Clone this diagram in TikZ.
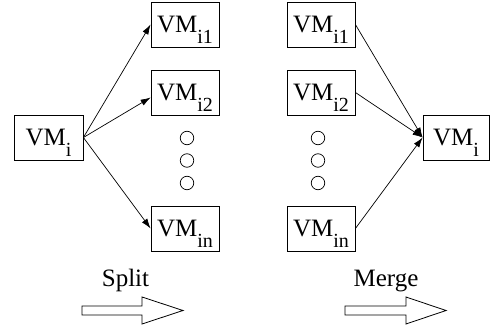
\documentclass[tikz,border=0pt]{standalone}
\usepackage{fontspec}
\setmainfont{Liberation Serif}
\usetikzlibrary{arrows.meta}
\newcommand\vmlab[1]{VM\smash{\raisebox{-11pt}{\fontsize{20}{20}\selectfont #1}}}
\begin{document}
\begin{tikzpicture}[x=1pt,y=-1pt,
  vmbox/.style={draw,line width=0.8pt,inner sep=0pt,minimum width=68pt,minimum height=45pt,font=\fontsize{25}{30}\selectfont},
  dotc/.style={draw,circle,line width=0.7pt,inner sep=0pt,minimum size=13.5pt},
  conn/.style={line width=0.7pt,-{Latex[length=10pt,width=6.5pt]}},
  bigarrow/.style={draw,line width=0.8pt,fill=white},
  lbl/.style={anchor=base,font=\fontsize{25}{30}\selectfont}]
\useasboundingbox (0,0) rectangle (490,331);
% split side
\node[vmbox,minimum width=69pt] (vi) at (48.5,137.5) {\vmlab{i}};
\node[vmbox] (i1) at (185,24.5) {\vmlab{i1}};
\node[vmbox] (i2) at (185,92.5) {\vmlab{i2}};
\node[vmbox] (in) at (185,228.5) {\vmlab{in}};
\node[dotc] (c1) at (187,138) {};
\node[dotc] (c2) at (187,160.5) {};
\node[dotc] (c3) at (187,183) {};
\draw[conn] (vi.east) -- (i1.west);
\draw[conn] (vi.east) -- ([yshift=-5pt]i2.west);
\draw[conn] (vi.east) -- (in.west);
% merge side
\node[vmbox] (j1) at (321,24.5) {\vmlab{i1}};
\node[vmbox] (j2) at (321,92.5) {\vmlab{i2}};
\node[vmbox] (jn) at (321,228.5) {\vmlab{in}};
\node[dotc] (d1) at (318,138) {};
\node[dotc] (d2) at (318,160.5) {};
\node[dotc] (d3) at (318,183) {};
\node[vmbox,minimum width=66pt] (vo) at (456,137.5) {\vmlab{i}};
\draw[conn] (j1.east) -- (vo.west);
\draw[conn] (j2.east) -- (vo.west);
\draw[conn] (jn.east) -- (vo.west);
% labels and hollow arrows
\node[lbl] (split) at (125.5,286) {Split};
\node[lbl] (merge) at (386,286) {Merge};
\draw[bigarrow] (82,306) -- (142,306) -- (142,297) -- (183,310.5) -- (142,324) -- (142,315) -- (82,315) -- cycle;
\draw[bigarrow] (345,306) -- (406,306) -- (406,297) -- (446,310.5) -- (406,324) -- (406,315) -- (345,315) -- cycle;
\end{tikzpicture}
\end{document}
